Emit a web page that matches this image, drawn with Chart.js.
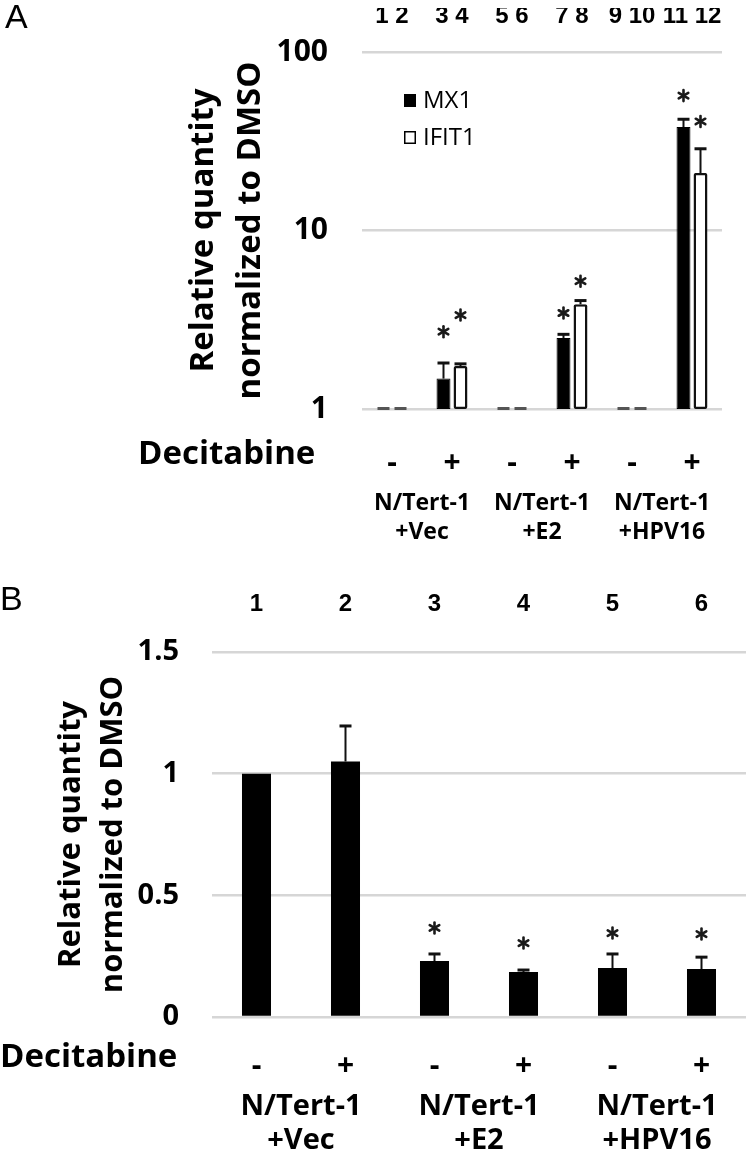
<!DOCTYPE html>
<html>
<head>
<meta charset="utf-8">
<script src="https://cdn.jsdelivr.net/npm/chart.js@4.4.1/dist/chart.umd.min.js"></script>
<style>
  html, body { margin: 0; padding: 0; background: #fff; }
  #wrap { position: relative; width: 750px; height: 1161px; }
  canvas { position: absolute; left: 0; }
  #chartA { top: 0; }
  #chartB { top: 560px; }
</style>
</head>
<body>
<div id="wrap">
  <canvas id="chartA" width="750" height="560"></canvas>
  <canvas id="chartB" width="750" height="601"></canvas>
</div>
<script>
/* Panel A: MX1 / IFIT1 relative quantity (log), Panel B: single series (linear) */

// ---- panel A data ----
const catsA = ["-", "+", "-", "+", "-", "+"];
const groupsA = [["N/Tert-1", "+Vec"], ["N/Tert-1", "+E2"], ["N/Tert-1", "+HPV16"]];
const lanesA = ["1 2", "3 4", "5 6", "7 8", "9 10", "11 12"];
const yTicksA = [1, 10, 100];
const mx1 = [1, 1.48, 1, 2.5, 1, 38];
const mx1Err = [null, 1.81, null, 2.62, null, 42];
const mx1Star = [null, 2.71, null, 3.45, null, 57];
const ifit1 = [1, 1.74, 1, 3.86, 1, 21];
const ifit1Err = [null, 1.79, null, 4.05, null, 28.7];
const ifit1Star = [null, 3.36, null, 5.2, null, 40.8];

// ---- panel B data ----
const catsB = ["-", "+", "-", "+", "-", "+"];
const groupsB = [["N/Tert-1", "+Vec"], ["N/Tert-1", "+E2"], ["N/Tert-1", "+HPV16"]];
const lanesB = ["1", "2", "3", "4", "5", "6"];
const yTicksB = [0, 0.5, 1, 1.5];
const relB = [1.0, 1.05, 0.23, 0.185, 0.201, 0.197];
const relBErr = [null, 1.196, 0.259, 0.193, 0.259, 0.246];
const relBStar = [null, null, 0.366, 0.304, 0.345, 0.341];

const yTitle = ["Relative quantity", "normalized to DMSO"];
const rowLabel = "Decitabine";

Chart.defaults.font.family = "'Open Sans', sans-serif";
Chart.defaults.color = "#000";

const GRID = "#d6d6d6";

function drawStar(ctx, x, y, r) {
  ctx.save();
  ctx.strokeStyle = "#1a1a1a";
  ctx.lineWidth = 2.6;
  ctx.lineCap = "round";
  for (let k = 0; k < 3; k++) {
    const a = Math.PI / 2 + (k * Math.PI) / 3;
    ctx.beginPath();
    ctx.moveTo(x - r * Math.cos(a), y - r * Math.sin(a));
    ctx.lineTo(x + r * Math.cos(a), y + r * Math.sin(a));
    ctx.stroke();
  }
  ctx.restore();
}

/* error bars, significance stars and baseline dashes, all from dataset arrays */
const marks = {
  id: "marks",
  afterDatasetsDraw(chart) {
    const ctx = chart.ctx;
    const ys = chart.scales.y;
    chart.data.datasets.forEach((ds, di) => {
      const meta = chart.getDatasetMeta(di);
      meta.data.forEach((bar, i) => {
        const x = bar.x;
        if (ds.data[i] <= ys.min) {
          ctx.save();
          ctx.strokeStyle = "#555";
          ctx.lineWidth = 3;
          ctx.beginPath();
          ctx.moveTo(x - 6, ys.getPixelForValue(ys.min) - 0.5);
          ctx.lineTo(x + 6, ys.getPixelForValue(ys.min) - 0.5);
          ctx.stroke();
          ctx.restore();
        }
        if (ds.errHi && ds.errHi[i] != null) {
          const yt = ys.getPixelForValue(ds.errHi[i]);
          ctx.save();
          ctx.strokeStyle = "#111";
          ctx.lineWidth = 2;
          ctx.beginPath();
          ctx.moveTo(x, bar.y);
          ctx.lineTo(x, yt);
          ctx.stroke();
          ctx.lineWidth = 3;
          ctx.beginPath();
          ctx.moveTo(x - ds.capW, yt);
          ctx.lineTo(x + ds.capW, yt);
          ctx.stroke();
          ctx.restore();
        }
        if (ds.stars && ds.stars[i] != null) {
          drawStar(ctx, x, ys.getPixelForValue(ds.stars[i]), 5.5);
        }
      });
    });
  },
};

/* panel letter, row label and (for A) an in-plot legend */
const extras = {
  id: "extras",
  afterDraw(chart, args, o) {
    const ctx = chart.ctx;
    ctx.save();
    ctx.fillStyle = "#000";
    ctx.font = "34px 'Liberation Sans', Arial, sans-serif";
    ctx.textBaseline = "alphabetic";
    ctx.fillText(o.letter, o.letterX, o.letterY);

    ctx.font = "bold " + o.rowSize + "px 'Open Sans', sans-serif";
    ctx.textBaseline = "middle";
    ctx.fillText(rowLabel, o.rowX, chart.scales.x.top + o.rowDy);

    if (o.legend) {
      ctx.font = "24px 'Open Sans', sans-serif";
      chart.data.datasets.forEach((ds, i) => {
        const y = o.legend.y + i * o.legend.gap;
        ctx.fillStyle = ds.backgroundColor;
        ctx.fillRect(o.legend.x, y - 6, 12, 13);
        ctx.strokeStyle = "#000";
        ctx.lineWidth = 1.5;
        ctx.strokeRect(o.legend.x + 0.75, y - 5.25, 10.5, 11.5);
        ctx.fillStyle = "#000";
        ctx.fillText(ds.label, o.legend.x + 19, y + 1);
      });
    }
    ctx.restore();
  },
};

function fixW(w) { return (s) => { s.width = w; }; }
function fixH(h) { return (s) => { s.height = h; }; }

/* ---------------- panel A ---------------- */
new Chart(document.getElementById("chartA"), {
  type: "bar",
  data: {
    labels: catsA,
    datasets: [
      {
        label: "MX1", data: mx1, errHi: mx1Err, stars: mx1Star, capW: 6,
        backgroundColor: "#000", borderColor: "#000",
        borderWidth: (c) => (c.raw <= 1 ? 0 : 1),
      },
      {
        label: "IFIT1", data: ifit1, errHi: ifit1Err, stars: ifit1Star, capW: 6,
        backgroundColor: "#fff", borderColor: "#111", borderRadius: 2,
        borderWidth: (c) => (c.raw <= 1 ? 0 : 2.5),
      },
    ],
  },
  options: {
    responsive: false,
    animation: false,
    layout: { padding: { left: 0, right: 28, top: 0, bottom: 0 } },
    datasets: { bar: { categoryPercentage: 0.567, barPercentage: 0.82, borderSkipped: false } },
    plugins: {
      legend: { display: false },
      tooltip: { enabled: false },
      extras: {
        letter: "A", letterX: 5, letterY: 28,
        rowX: 138, rowDy: 46, rowSize: 33,
        legend: { x: 404, y: 100, gap: 37 },
      },
    },
    scales: {
      y: {
        type: "logarithmic", min: 1, max: 100,
        afterBuildTicks: (s) => { s.ticks = yTicksA.map((v) => ({ value: v })); },
        afterFit: fixW(362),
        grid: { color: GRID, lineWidth: 2.5, drawTicks: false },
        border: { display: false },
        ticks: { padding: 34, font: { size: 30, weight: "bold" }, callback: (v) => String(v) },
        title: {
          display: true, text: yTitle,
          font: { size: 33, weight: "bold", lineHeight: 1.42 },
          padding: { top: 180, bottom: 0 },
        },
      },
      x: {
        position: "bottom", weight: 0, afterFit: fixH(60),
        grid: { display: false }, border: { display: false },
        ticks: { padding: 28, font: { size: 30, weight: "bold" }, maxRotation: 0, autoSkip: false },
      },
      xg: {
        type: "category", labels: groupsA, position: "bottom", weight: 1, offset: true,
        afterFit: fixH(91),
        grid: { display: false }, border: { display: false },
        ticks: { padding: 12, font: { size: 23, weight: "bold", lineHeight: 1.25 }, maxRotation: 0, autoSkip: false },
      },
      xt: {
        type: "category", labels: lanesA, position: "top", offset: true,
        afterFit: fixH(44),
        grid: { display: false }, border: { display: false },
        ticks: {
          padding: 13, maxRotation: 0, autoSkip: false,
          font: { family: "'Liberation Sans Narrow', 'Liberation Sans', sans-serif", size: 24, weight: "bold" },
        },
      },
    },
  },
  plugins: [marks, extras],
});

/* ---------------- panel B ---------------- */
new Chart(document.getElementById("chartB"), {
  type: "bar",
  data: {
    labels: catsB,
    datasets: [
      {
        label: "Relative quantity", data: relB, errHi: relBErr, stars: relBStar, capW: 6,
        backgroundColor: "#000", borderColor: "#000", borderWidth: 0,
      },
    ],
  },
  options: {
    responsive: false,
    animation: false,
    layout: { padding: { left: 0, right: 4, top: 0, bottom: 0 } },
    datasets: { bar: { categoryPercentage: 1, barPercentage: 0.326 } },
    plugins: {
      legend: { display: false },
      tooltip: { enabled: false },
      extras: { letter: "B", letterX: 0, letterY: 50, rowX: 0, rowDy: 41, rowSize: 33 },
    },
    scales: {
      y: {
        type: "linear", min: 0, max: 1.5,
        afterBuildTicks: (s) => { s.ticks = yTicksB.map((v) => ({ value: v })); },
        afterFit: fixW(212),
        grid: { color: GRID, lineWidth: 2.5, drawTicks: false },
        border: { display: false },
        ticks: { padding: 33, font: { size: 29, weight: "bold" }, callback: (v) => String(v) },
        title: {
          display: true, text: yTitle,
          font: { size: 31, weight: "bold", lineHeight: 1.35 },
          padding: { top: 50, bottom: 0 },
        },
      },
      x: {
        position: "bottom", weight: 0, afterFit: fixH(60),
        grid: { display: false }, border: { display: false },
        ticks: { padding: 23, font: { size: 30, weight: "bold" }, maxRotation: 0, autoSkip: false },
      },
      xg: {
        type: "category", labels: groupsB, position: "bottom", weight: 1, offset: true,
        afterFit: fixH(84),
        grid: { display: false }, border: { display: false },
        ticks: { padding: 4, font: { size: 29, weight: "bold", lineHeight: 1.2 }, maxRotation: 0, autoSkip: false },
      },
      xt: {
        type: "category", labels: lanesB, position: "top", offset: true,
        afterFit: fixH(92),
        grid: { display: false }, border: { display: false },
        ticks: {
          padding: 25, maxRotation: 0, autoSkip: false,
          font: { family: "'Liberation Sans Narrow', 'Liberation Sans', sans-serif", size: 24, weight: "bold" },
        },
      },
    },
  },
  plugins: [marks, extras],
});
</script>
</body>
</html>
